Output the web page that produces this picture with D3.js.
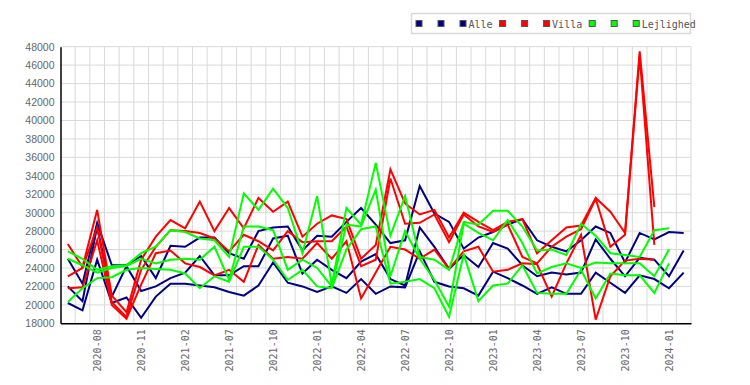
<!DOCTYPE html>
<html>
<head>
<meta charset="utf-8">
<script src="https://cdn.jsdelivr.net/npm/d3@7"></script>
<style>
  body { margin: 0; background: #fff; }
</style>
</head>
<body>
<svg id="chart" width="750" height="385"></svg>
<script>
// Months on the x axis (categorical, some months missing in 2021)
const months = [
  "2020-06", "2020-07", "2020-08", "2020-09", "2020-10", "2020-11", "2020-12", "2021-01", "2021-02",
  "2021-05", "2021-06",
  "2021-07", "2021-08", "2021-09", "2021-10", "2021-11", "2021-12",
  "2022-01", "2022-02", "2022-03", "2022-04", "2022-05", "2022-06", "2022-07", "2022-08", "2022-09",
  "2022-10", "2022-11", "2022-12", "2023-01", "2023-02", "2023-03", "2023-04", "2023-05", "2023-06",
  "2023-07", "2023-08", "2023-09", "2023-10", "2023-11", "2023-12", "2024-01", "2024-02"
];
const tickLabels = ["2020-08", "2020-11", "2021-02", "2021-07", "2021-10", "2022-01", "2022-04",
  "2022-07", "2022-10", "2023-01", "2023-04", "2023-07", "2023-10", "2024-01"];
const yTicks = [18000, 20000, 22000, 24000, 26000, 28000, 30000, 32000, 34000, 36000,
  38000, 40000, 42000, 44000, 46000, 48000];

// Alle (navy)
const alle1 = [25000, 22300, 28900, 24300, 24300, 25300, 22900, 26400, 26300, 27300, 27300, 25600, 25000, 28000, 28400,
  28500, 25900, 27500, 27400, 29000, 30500, 28700, 26700, 27000, 32900, 29900, 29000, 26100, 27300, 27900,
  28700, 29300, 27000, 26300, 25800, 27000, 28500, 27800, 24600, 27800, 27100, 27900, 27800];
const alle2 = [22000, 20400, 28500, 20900, 24200, 21500, 22000, 22900, 23500, 25300, 23200, 23200, 24200, 24200, 27200,
  27500, 23400, 24900, 23800, 22900, 24700, 25500, 22800, 22100, 28400, 26300, 23900, 25400, 24100, 26700,
  26100, 24300, 23100, 23500, 23300, 23500, 27100, 25000, 23100, 25100, 24900, 23100, 25900];
const alle3 = [20200, 19400, 24900, 20200, 20800, 18600, 20900, 22300, 22300, 22100, 21900, 21400, 21000, 22100, 24600,
  22400, 22000, 21400, 22000, 21300, 22800, 21200, 22000, 21900, 25800, 22500, 22000, 21800, 21000, 23600,
  22900, 22100, 21200, 21900, 21200, 21200, 23500, 22400, 21300, 23200, 22800, 21800, 23500];

// Villa (red)
const villa1 = [26600, 24100, 30300, 21000, 19200, 24900, 27400, 29200, 28300, 31200, 28000, 30500, 28300, 31600, 30100,
  31200, 27400, 28800, 29700, 29300, 25000, 26500, 34700, 31000, 29800, 30300, 27300, 30000, 29000, 28100,
  29000, 29300, 25600, 27000, 28400, 28600, 31600, 30100, 27800, 47500, 30600];
const villa2 = [23100, 24000, 28400, 20300, 18700, 23800, 26300, 28100, 28000, 27800, 27200, 25800, 27600, 26900, 25900,
  28000, 26800, 26900, 26900, 28500, 24200, 24900, 33700, 28800, 28900, 29800, 26800, 29800, 28500, 27900,
  28700, 25200, 24500, 26300, 27400, 28200, 31500, 26300, 27600, 47000, 26500];
const villa3 = [21800, 21900, 27000, 20000, 18500, 22200, 25600, 25900, 24500, 24100, 23200, 23800, 22500, 26500, 25000,
  25200, 25000, 26700, 25000, 26900, 20700, 23500, 26300, 26000, 25000, 26000, 23900, 25800, 26300, 23600,
  23800, 24500, 24400, 20900, 24500, 27600, 18400, 23100, 24800, 25000, 24900];

// Lejlighed (green)
const lejl1 = [25800, 25000, 23800, 24200, 24300, 25600, 26300, 28100, 27900, 27200, 27000, 25200, 32100, 30300, 32600,
  30500, 25600, 31800, 22200, 30500, 28700, 35400, 27500, 31800, 25200, 24900, 23800, 29000, 28700, 30200,
  30200, 28500, 25900, 26000, 25400, 28800, 27500, 25600, 25400, 25200, 28100, 28300];
const lejl2 = [25000, 24300, 23500, 24000, 24200, 25000, 24500, 24900, 25000, 24900, 26300, 22700, 28500, 28500, 28100,
  23800, 24900, 24000, 22000, 28700, 28500, 32500, 23100, 28000, 25000, 22700, 19800, 28800, 27800, 27000,
  29200, 26700, 23400, 24100, 24500, 24000, 24600, 24500, 24500, 24500, 23100, 26000];
const lejl3 = [20300, 21800, 22900, 23000, 23800, 24000, 23900, 23800, 23400, 21800, 23100, 22500, 26300, 26300, 24900,
  22700, 23800, 22000, 21800, 26000, 28200, 28500, 22300, 22500, 22800, 21800, 18700, 25500, 20400, 22100,
  22300, 24300, 21300, 21200, 21200, 23800, 20700, 23400, 23200, 23200, 21300, 24500];

const groups = [
  { name: "Alle", color: "#000080", series: [alle1, alle2, alle3] },
  { name: "Villa", color: "#ff0000", series: [villa1, villa2, villa3] },
  { name: "Lejlighed", color: "#00ff00", series: [lejl1, lejl2, lejl3] }
];

const plot = { left: 60.5, right: 691, top: 46.7, bottom: 323.3 };
const svg = d3.select("#chart");

const x = d3.scaleBand()
  .domain(months)
  .range([plot.left, plot.right])
  .padding(0);

const y = d3.scaleLinear()
  .domain([18000, 48000])
  .range([plot.bottom, plot.top]);

// Grid
const grid = svg.append("g").attr("class", "grid")
  .attr("stroke", "#d9d9d9")
  .attr("stroke-width", 1);

grid.selectAll(".hline")
  .data(yTicks)
  .enter()
  .append("line")
  .attr("x1", plot.left)
  .attr("x2", plot.right)
  .attr("y1", d => y(d))
  .attr("y2", d => y(d));

grid.selectAll(".vline")
  .data(months.slice(1).map(m => x(m)).concat([plot.right]))
  .enter()
  .append("line")
  .attr("x1", d => d)
  .attr("x2", d => d)
  .attr("y1", plot.top)
  .attr("y2", plot.bottom);

// Lines
const line = d3.line()
  .x((d, i) => x(months[i]) + x.bandwidth() / 2)
  .y(d => y(d));

groups.forEach(g => {
  g.series.forEach(s => {
    svg.append("path")
      .datum(s)
      .attr("fill", "none")
      .attr("stroke", g.color)
      .attr("stroke-width", 2)
      .attr("stroke-linejoin", "miter")
      .attr("d", line);
  });
});

// Axes
const xAxis = svg.append("g")
  .attr("transform", `translate(0,${plot.bottom})`)
  .call(d3.axisBottom(x).tickValues(tickLabels).tickSize(0).tickSizeOuter(0));

xAxis.select(".domain").attr("stroke", "#000").attr("stroke-width", 1.5);
xAxis.selectAll("text")
  .attr("transform", "rotate(-90)")
  .attr("text-anchor", "end")
  .attr("x", -6)
  .attr("y", 0)
  .attr("dy", "0.35em")
  .style("font-family", "'DejaVu Sans Mono', monospace")
  .style("font-size", "10px")
  .style("fill", "#666");

const yAxis = svg.append("g")
  .attr("transform", `translate(${plot.left},0)`)
  .call(d3.axisLeft(y).tickValues(yTicks).tickSize(0).tickSizeOuter(0).tickPadding(6).tickFormat(d3.format("d")));

yAxis.select(".domain").attr("stroke", "#000").attr("stroke-width", 1.5);
yAxis.selectAll("text")
  .style("font-family", "'Liberation Sans', Arial, sans-serif")
  .style("font-size", "10.5px")
  .style("fill", "#666");

// Legend
const legend = svg.append("g").attr("class", "legend");
legend.append("rect")
  .attr("x", 411.5)
  .attr("y", 13.5)
  .attr("width", 279)
  .attr("height", 20)
  .attr("fill", "#fff")
  .attr("stroke", "#d9d9d9")
  .attr("stroke-width", 1.5);

let cursor = 416;
groups.forEach(g => {
  for (let k = 0; k < 3; k++) {
    legend.append("rect")
      .attr("x", cursor + k * 22)
      .attr("y", 20.5)
      .attr("width", 6)
      .attr("height", 6)
      .attr("fill", g.color)
      .attr("stroke", "#555")
      .attr("stroke-width", 1);
  }
  const t = legend.append("text")
    .attr("x", cursor + 52.5)
    .attr("y", 27.5)
    .style("font-family", "'DejaVu Sans Mono', monospace")
    .style("font-size", "10px")
    .style("fill", "#555")
    .text(g.name);
  cursor = cursor + 52.5 + t.node().getComputedTextLength() + 7;
});
</script>
</body>
</html>
